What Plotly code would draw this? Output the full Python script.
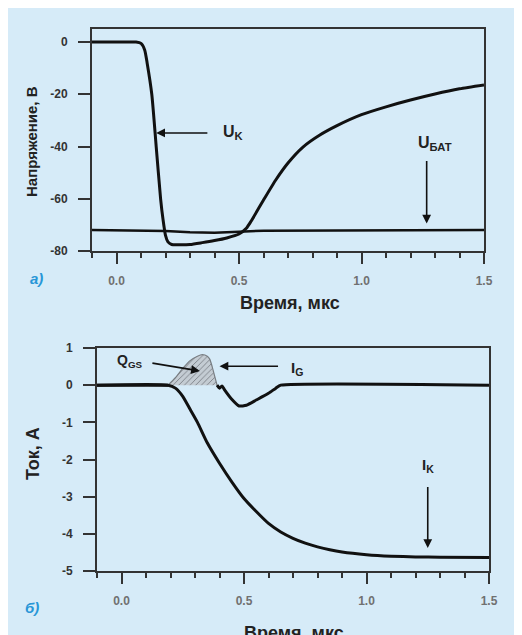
import plotly.graph_objects as go

# ---- Data: panel a) ----
uk_t = [-0.1, 0.0, 0.08, 0.1, 0.115, 0.125, 0.144, 0.162, 0.18, 0.19, 0.2, 0.21, 0.225, 0.25, 0.3, 0.35,
        0.4, 0.45, 0.5, 0.53, 0.55, 0.6, 0.65, 0.7, 0.76, 0.83, 0.9, 1.0, 1.1, 1.2, 1.3, 1.4, 1.5]
uk_v = [0, 0, 0, -0.5, -3, -8, -20, -40, -60, -68, -74, -76.5, -77.5, -77.6, -77.5, -76.8,
        -76.0, -75.0, -73.5, -71.3, -68.5, -60.5, -52.8, -46.3, -40.3, -35.6, -32, -27.8, -24.8, -22.2, -19.9, -17.9, -16.4]
ubat_t = [-0.1, 0.2, 0.3, 0.4, 0.5, 0.6, 1.5]
ubat_v = [-72, -72.3, -72.8, -73, -72.6, -72.2, -72]

# ---- Data: panel б) ----
ik_t = [-0.1, 0.19, 0.22, 0.25, 0.28, 0.31, 0.35, 0.4, 0.45, 0.5, 0.55, 0.6, 0.65, 0.7, 0.75, 0.8,
        0.85, 0.9, 1.0, 1.1, 1.2, 1.3, 1.5]
ik_v = [0, 0, -0.08, -0.3, -0.65, -1.0, -1.55, -2.1, -2.6, -3.05, -3.4, -3.72, -3.95, -4.12, -4.25, -4.35,
        -4.43, -4.49, -4.56, -4.6, -4.62, -4.63, -4.64]
ig_t = [-0.1, 0.19, 0.22, 0.25, 0.28, 0.31, 0.33, 0.35, 0.36, 0.37, 0.38, 0.39,
        0.40, 0.41, 0.42, 0.45, 0.48, 0.51, 0.55, 0.6, 0.63, 0.65, 1.5]
ig_v = [0, 0, 0.2, 0.45, 0.66, 0.78, 0.82, 0.78, 0.7, 0.5, 0.25, 0,
        -0.08, -0.02, -0.12, -0.38, -0.56, -0.54, -0.4, -0.22, -0.08, 0, 0]
qgs_start, qgs_end = 0.19, 0.39

x_tickvals = [0, 0.5, 1.0, 1.5]
x_ticktext = ["0.0", "0.5", "1.0", "1.5"]
y1_tickvals = [0, -20, -40, -60, -80]
y1_ticktext = ["0", "-20", "-40", "-60", "-80"]
y2_tickvals = [1, 0, -1, -2, -3, -4, -5]
y2_ticktext = ["1", "0", "-1", "-2", "-3", "-4", "-5"]

# page body has an 8px margin; figure fills the rest of the 522x635 window
OFF = 8
W, H = 522 - OFF, 635 - OFF
BG = "rgb(214,235,248)"
FONT = "Liberation Sans, Arial, sans-serif"
LINE = "#111"

def px(sx):
    return (sx - OFF) / W

def py(sy):
    return 1 - (sy - OFF) / H

fig = go.Figure()

# panel a
fig.add_trace(go.Scatter(x=ubat_t, y=ubat_v, mode="lines", line=dict(color=LINE, width=2.5),
                         xaxis="x", yaxis="y", hoverinfo="skip"))
fig.add_trace(go.Scatter(x=uk_t, y=uk_v, mode="lines", line=dict(color=LINE, width=3, shape="spline", smoothing=0.6),
                         xaxis="x", yaxis="y", hoverinfo="skip"))

# panel b: Q_GS shaded bump
bump_t = [t for t in ig_t if qgs_start <= t <= qgs_end]
bump_v = [v for t, v in zip(ig_t, ig_v) if qgs_start <= t <= qgs_end]
fig.add_trace(go.Scatter(x=bump_t, y=bump_v, mode="lines", fill="tozeroy",
                         fillcolor="rgb(190,198,205)",
                         fillpattern=dict(shape="/", fgcolor="rgb(120,126,132)", bgcolor="rgb(196,204,211)",
                                          size=4, solidity=0.22),
                         line=dict(color="rgb(120,125,130)", width=1.2, shape="spline", smoothing=0.6),
                         xaxis="x2", yaxis="y2", hoverinfo="skip"))
ig_rest = [v if (t <= qgs_start or t >= qgs_end) else None for t, v in zip(ig_t, ig_v)]
fig.add_trace(go.Scatter(x=ig_t, y=ig_rest, mode="lines", line=dict(color=LINE, width=3, shape="spline", smoothing=0.5),
                         connectgaps=False, xaxis="x2", yaxis="y2", hoverinfo="skip"))
fig.add_trace(go.Scatter(x=ik_t, y=ik_v, mode="lines", line=dict(color=LINE, width=3, shape="spline", smoothing=0.6),
                         xaxis="x2", yaxis="y2", hoverinfo="skip"))

def xaxis_cfg(domain, anchor):
    return dict(domain=domain, anchor=anchor, range=[-0.1, 1.5], tickvals=x_tickvals, ticktext=x_ticktext,
                ticks="outside", ticklen=11, tickwidth=2, tickcolor="#333",
                minor=dict(dtick=0.1, tick0=0, ticks="outside", ticklen=5, tickwidth=1.5, tickcolor="#333"),
                showline=True, linewidth=2, linecolor="#333", mirror=True, automargin=False,
                showgrid=False, zeroline=False, ticklabelstandoff=7,
                tickfont=dict(family=FONT, size=12, color="#707070", weight="bold"))

def yaxis_cfg(domain, anchor, rng, tv, tt):
    return dict(domain=domain, anchor=anchor, range=rng, tickvals=tv, ticktext=tt,
                ticks="outside", ticklen=12, tickwidth=2, tickcolor="#333",
                showline=True, linewidth=2, linecolor="#333", mirror=True, automargin=False,
                showgrid=False, zeroline=False, ticklabelstandoff=8,
                tickfont=dict(family=FONT, size=12, color="#333", weight="bold"))

fig.update_layout(
    template="none",
    width=W, height=H, margin=dict(l=0, r=0, t=0, b=0, pad=0), autosize=False,
    paper_bgcolor=BG, plot_bgcolor=BG, showlegend=False,
    xaxis=xaxis_cfg([px(92), px(484)], "y"),
    yaxis=yaxis_cfg([py(251), py(29)], "x", [-80, 5], y1_tickvals, y1_ticktext),
    xaxis2=xaxis_cfg([px(97), px(489)], "y2"),
    yaxis2=yaxis_cfg([py(571), py(348)], "x2", [-5, 1], y2_tickvals, y2_ticktext),
)

ann = []
def text(x, y, s, size=15, color="#222", xref="paper", yref="paper", angle=0, xanchor="center", yanchor="middle", italic=False):
    ann.append(dict(x=x, y=y, xref=xref, yref=yref, text=s, showarrow=False, textangle=angle,
                    xanchor=xanchor, yanchor=yanchor,
                    font=dict(family=FONT, size=size, color=color, weight="bold",
                              style="italic" if italic else "normal")))

def arrow(x0, y0, x1, y1, xr, yr):
    ann.append(dict(x=x1, y=y1, ax=x0, ay=y0, xref=xr, yref=yr, axref=xr, ayref=yr, text="",
                    showarrow=True, arrowhead=2, arrowsize=1.1, arrowwidth=1.6, arrowcolor="#111"))

# axis titles
text(px(290), py(303), "Время, мкс", size=18)
text(px(294), py(621), "Время, мкс", size=18, yanchor="top")
text(px(32), py(142), "Напряжение, В", size=15, angle=-90)
text(px(33), py(454), "Ток, А", size=18, angle=-90)
# panel labels
text(px(36), py(278), "а)", size=15, color="rgb(40,150,215)", italic=True)
text(px(32), py(607), "б)", size=15, color="rgb(40,150,215)", italic=True)

# panel a annotations
arrow(0.377, -34.8, 0.162, -34.8, "x", "y")
text(0.425, -34.8, "U<sub>K</sub>", size=16, xref="x", yref="y", xanchor="left")
arrow(1.266, -45, 1.266, -69.5, "x", "y")
text(1.30, -38.8, "U<sub>БАТ</sub>", size=16, xref="x", yref="y")

# panel b annotations
arrow(0.12, 0.6, 0.32, 0.38, "x2", "y2")
text(0.035, 0.66, "Q<sub>GS</sub>", size=14, xref="x2", yref="y2")
arrow(0.645, 0.51, 0.40, 0.51, "x2", "y2")
text(0.715, 0.45, "I<sub>G</sub>", size=15, xref="x2", yref="y2")
arrow(1.25, -2.7, 1.25, -4.38, "x2", "y2")
text(1.25, -2.15, "I<sub>K</sub>", size=15, xref="x2", yref="y2")

fig.update_layout(annotations=ann)
fig.write_html("out.html")
